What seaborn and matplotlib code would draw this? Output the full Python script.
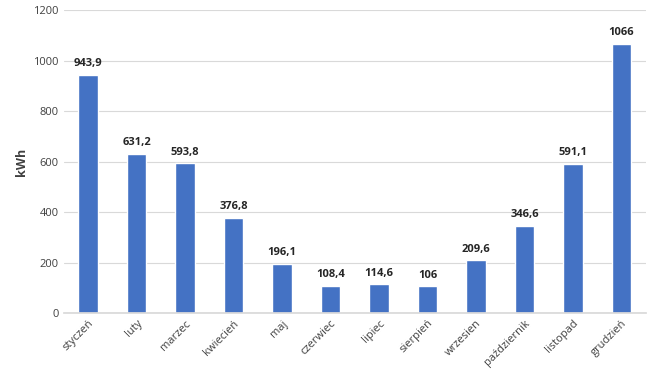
import matplotlib
matplotlib.use("Agg")
import matplotlib.pyplot as plt
import pandas as pd
import seaborn as sns

# monthly energy usage
months = ['styczeń', 'luty', 'marzec', 'kwiecień', 'maj', 'czerwiec', 'lipiec',
          'sierpień', 'wrzesien', 'październik', 'listopad', 'grudzień']
kwh = [943.9, 631.2, 593.8, 376.8, 196.1, 108.4, 114.6, 106, 209.6, 346.6, 591.1, 1066]
value_labels = ['943,9', '631,2', '593,8', '376,8', '196,1', '108,4', '114,6', '106',
                '209,6', '346,6', '591,1', '1066']

sns.set_theme(style='white')
plt.rcParams['font.family'] = ['Open Sans', 'DejaVu Sans']

df = pd.DataFrame({'month': months, 'kwh': kwh})

fig = plt.figure(figsize=(6.51, 3.71), dpi=100)
ax = fig.add_axes([0.098, 0.156, 0.894, 0.817])
sns.barplot(data=df, x='month', y='kwh', color='#4472C4', width=0.4, saturation=1, ax=ax)

ax.set_ylim(0, 1200)
ax.set_yticks(range(0, 1201, 200))
ax.yaxis.grid(True, color='#D9D9D9', linewidth=0.8)
ax.set_axisbelow(True)
for s in ['top', 'right', 'left']:
    ax.spines[s].set_visible(False)
ax.spines['bottom'].set_color('#D9D9D9')

ax.set_xlabel('')
ax.set_ylabel('kWh', fontsize=9, fontweight='bold', color='#404040')
ax.tick_params(axis='both', length=0, labelsize=8, colors='#404040')
plt.setp(ax.get_xticklabels(), rotation=45, ha='right', rotation_mode='anchor')

for i, (v, lab) in enumerate(zip(kwh, value_labels)):
    ax.annotate(lab, (i, v), xytext=(0, 4), textcoords='offset points',
                ha='center', va='bottom', fontsize=8, fontweight='bold', color='#262626')

fig.savefig('out.png', dpi=100)
